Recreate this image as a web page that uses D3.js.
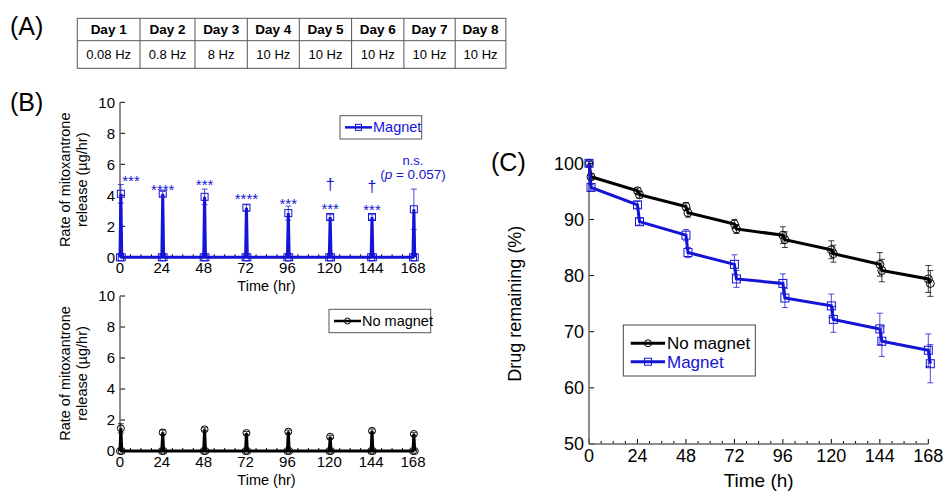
<!DOCTYPE html>
<head>
<meta charset="utf-8">
<style>
body { margin: 0; background: #fff; }
text { font-family: Arial, "Liberation Sans", sans-serif; fill: #000; }
</style>
</head>
<body>
<script src="https://cdn.jsdelivr.net/npm/d3@7"></script>
<script>

// ---- data ----
var dayNames = ["Day 1", "Day 2", "Day 3", "Day 4", "Day 5", "Day 6", "Day 7", "Day 8"];
var dayFreqs = ["0.08 Hz", "0.8 Hz", "8 Hz", "10 Hz", "10 Hz", "10 Hz", "10 Hz", "10 Hz"];

// (B) release rate at each stimulation (µg/hr)
var pulseTimes = [0, 24, 48, 72, 96, 120, 144, 168];
var magnetRate = [4.1, 4.1, 3.9, 3.2, 2.85, 2.6, 2.6, 3.1];
var magnetRateErr = [0.6, 0.15, 0.5, 0.2, 0.45, 0.15, 0.15, 1.3];
var noMagnetRate = [1.46, 1.2, 1.4, 1.16, 1.25, 0.92, 1.3, 1.1];
var noMagnetRateErr = [0.3, 0.15, 0.1, 0.1, 0.1, 0.1, 0.12, 0.1];
var starLabels = ["***", "****", "***", "****", "***", "***", "***", null];
var starLevel = [5.2, 4.65, 4.95, 4.05, 3.7, 3.4, 3.3, null];
var daggerLevel = [null, null, null, null, null, 4.7, 4.55, null];

// (C) drug remaining (%), before / after each stimulation
var remainTimes = [0, 1, 24, 25, 48, 49, 72, 73, 96, 97, 120, 121, 144, 145, 168, 169];
var noMagnetRemain = [100, 97.6, 95.1, 94.4, 92.3, 91.2, 89.2, 88.3, 87.2, 86.4, 84.6, 83.9, 82.0, 80.9, 79.4, 78.6];
var noMagnetRemainErr = [0.3, 0.5, 0.5, 0.6, 0.7, 0.8, 0.8, 0.8, 1.5, 1.4, 1.6, 1.5, 2.1, 2.0, 2.4, 2.3];
var magnetRemain = [100, 95.7, 92.6, 89.6, 87.2, 84.1, 82.0, 79.4, 78.6, 76.0, 74.6, 72.2, 70.5, 68.3, 66.7, 64.3];
var magnetRemainErr = [0.5, 0.5, 0.6, 0.6, 1.0, 0.9, 1.7, 1.5, 1.7, 1.7, 2.1, 2.3, 2.8, 2.7, 2.9, 3.4];

var blue = "#1414d6";
var width = 943, height = 492;

var svg = d3.select("body").append("svg")
    .attr("width", width)
    .attr("height", height);

// panel letters
[["(A)", 10, 26], ["(B)", 10, 102], ["(C)", 491, 162]].forEach(function(p) {
  svg.append("text").attr("x", p[1]).attr("y", p[2]).attr("dy", "0.35em")
      .style("font-size", "25px").text(p[0]);
});

// ---- (A) table ----
var colW = [62.7, 55, 52.3, 52, 52.3, 52.3, 51.3, 50.7];
var tableX = 77.3, tableY = 18.3, rowH = [22.4, 27.6];
var colX = [tableX];
colW.forEach(function(w, i) { colX.push(colX[i] + w); });
var table = svg.append("g");
table.append("rect")
    .attr("x", tableX).attr("y", tableY)
    .attr("width", colX[8] - tableX).attr("height", rowH[0] + rowH[1])
    .attr("fill", "none").attr("stroke", "#555");
table.append("line")
    .attr("x1", tableX).attr("x2", colX[8])
    .attr("y1", tableY + rowH[0]).attr("y2", tableY + rowH[0])
    .attr("stroke", "#555");
colX.slice(1, 8).forEach(function(x) {
  table.append("line").attr("x1", x).attr("x2", x)
      .attr("y1", tableY).attr("y2", tableY + rowH[0] + rowH[1])
      .attr("stroke", "#555");
});
dayNames.forEach(function(d, i) {
  var cx = (colX[i] + colX[i + 1]) / 2;
  table.append("text").attr("x", cx).attr("y", tableY + rowH[0] / 2)
      .attr("dy", "0.35em").attr("text-anchor", "middle")
      .style("font-size", "13.5px").style("font-weight", "bold").text(d);
  table.append("text").attr("x", cx).attr("y", tableY + rowH[0] + rowH[1] / 2)
      .attr("dy", "0.35em").attr("text-anchor", "middle")
      .style("font-size", "13px").text(dayFreqs[i]);
});

// ---- helpers ----
function drawAxes(g, x, y, xTicks, yTicks, fontSize, minorStep) {
  var x0 = x.range()[0], x1 = x.range()[1];
  var y0 = y.range()[0], y1 = y.range()[1];
  // minor x ticks
  var minors = d3.range(x.domain()[0], x.domain()[1] + 0.1, minorStep)
      .filter(function(t) { return xTicks.indexOf(t) < 0; });
  g.selectAll(".minor").data(minors).enter().append("line")
      .attr("x1", x).attr("x2", x)
      .attr("y1", y0).attr("y2", y0 - 3)
      .attr("stroke", "#000");
  g.selectAll(".major").data(xTicks).enter().append("line")
      .attr("x1", x).attr("x2", x)
      .attr("y1", y0).attr("y2", y0 - 5)
      .attr("stroke", "#000");
  g.selectAll(".ymajor").data(yTicks).enter().append("line")
      .attr("x1", x0).attr("x2", x0 + 5)
      .attr("y1", y).attr("y2", y)
      .attr("stroke", "#000");
  g.append("line").attr("x1", x0).attr("x2", x1).attr("y1", y0).attr("y2", y0)
      .attr("stroke", "#666").attr("stroke-width", 1.5);
  g.append("line").attr("x1", x0).attr("x2", x0).attr("y1", y0).attr("y2", y1)
      .attr("stroke", "#666").attr("stroke-width", 1.5);
  g.selectAll(".xl").data(xTicks).enter().append("text")
      .attr("x", x).attr("y", y0 + 4).attr("dy", "0.8em")
      .attr("text-anchor", "middle").style("font-size", fontSize + "px")
      .text(function(d) { return d; });
  g.selectAll(".yl").data(yTicks).enter().append("text")
      .attr("x", x0 - 5).attr("y", y).attr("dy", "0.35em")
      .attr("text-anchor", "end").style("font-size", fontSize + "px")
      .text(function(d) { return d; });
}

function marker(g, kind, cx, cy, size, color) {
  if (kind === "square") {
    g.append("rect").attr("x", cx - size / 2).attr("y", cy - size / 2)
        .attr("width", size).attr("height", size)
        .attr("fill", "none").attr("stroke", color).attr("stroke-width", 1);
  } else {
    g.append("circle").attr("cx", cx).attr("cy", cy).attr("r", size / 2)
        .attr("fill", "none").attr("stroke", color).attr("stroke-width", 1);
  }
}

function errBar(g, px, yTop, yBot, color, cap) {
  g.append("line").attr("x1", px).attr("x2", px).attr("y1", yTop).attr("y2", yBot)
      .attr("stroke", color).attr("stroke-width", 1).attr("opacity", 0.75);
  [yTop, yBot].forEach(function(yy) {
    g.append("line").attr("x1", px - cap).attr("x2", px + cap).attr("y1", yy).attr("y2", yy)
        .attr("stroke", color).attr("stroke-width", 1).attr("opacity", 0.75);
  });
}

// ---- (B) release rate panels ----
function ratePanel(top, bottom, rates, errs, color, kind, legendLabel, legendBox) {
  var x = d3.scaleLinear().domain([0, 168]).range([120, 413]);
  var y = d3.scaleLinear().domain([0, 10]).range([bottom, top]);
  var g = svg.append("g");
  drawAxes(g, x, y, pulseTimes, [0, 2, 4, 6, 8, 10], 15, 6);

  // each stimulation: rate rises from zero and returns to zero within the hour
  var pts = [];
  pulseTimes.forEach(function(t, i) {
    pts.push([t, 0], [t + 0.5, rates[i]], [t + 1, 0]);
  });
  pulseTimes.forEach(function(t, i) {
    errBar(g, x(t + 0.5), y(rates[i] + errs[i]), y(rates[i] - errs[i]), color, 3);
  });
  g.append("path").datum(pts)
      .attr("d", d3.line().x(function(d) { return x(d[0]); }).y(function(d) { return y(d[1]); }))
      .attr("fill", "none").attr("stroke", color).attr("stroke-width", 3);
  pts.forEach(function(p) { marker(g, kind, x(p[0]), y(p[1]), 7, color); });

  // y label
  var cy = (top + bottom) / 2;
  g.append("text").attr("transform", "translate(65," + cy + ") rotate(-90)")
      .attr("text-anchor", "middle").attr("dy", "0.35em")
      .style("font-size", "14.5px").text("Rate of mitoxantrone");
  g.append("text").attr("transform", "translate(82," + cy + ") rotate(-90)")
      .attr("text-anchor", "middle").attr("dy", "0.35em")
      .style("font-size", "14.5px").text("release (µg/hr)");
  g.append("text").attr("x", (x(0) + x(168)) / 2).attr("y", bottom + 29)
      .attr("dy", "0.35em").attr("text-anchor", "middle")
      .style("font-size", "14.5px").text("Time (hr)");

  // legend
  var lx = legendBox[0], ly = legendBox[1], lw = legendBox[2], lh = legendBox[3];
  g.append("rect").attr("x", lx).attr("y", ly).attr("width", lw).attr("height", lh)
      .attr("fill", "#fff").attr("stroke", "#555");
  g.append("line").attr("x1", lx + 5).attr("x2", lx + 32).attr("y1", ly + lh / 2).attr("y2", ly + lh / 2)
      .attr("stroke", color).attr("stroke-width", 2.5);
  marker(g, kind, lx + 18.5, ly + lh / 2, 6, color);
  g.append("text").attr("x", lx + 33).attr("y", ly + lh / 2).attr("dy", "0.35em")
      .style("font-size", "14.5px").style("fill", color).text(legendLabel);
  return {g: g, x: x, y: y};
}

var magPanel = ratePanel(102.3, 257.3, magnetRate, magnetRateErr, blue, "square", "Magnet", [340, 115.7, 81.7, 23.3]);
ratePanel(296, 451, noMagnetRate, noMagnetRateErr, "#000", "circle", "No magnet", [329, 309.3, 101.7, 23.4]);

// significance marks on the magnet panel
pulseTimes.forEach(function(t, i) {
  var px = i === 0 ? magPanel.x(t) + 11 : magPanel.x(t + 0.5);
  if (starLabels[i]) {
    magPanel.g.append("text").attr("x", px).attr("y", magPanel.y(starLevel[i])).attr("dy", "0.62em")
        .attr("text-anchor", "middle").style("font-size", "15px").style("fill", blue)
        .text(starLabels[i]);
  }
  if (daggerLevel[i]) {
    magPanel.g.append("text").attr("x", px).attr("y", magPanel.y(daggerLevel[i])).attr("dy", "0.35em")
        .attr("text-anchor", "middle").style("font-size", "16px").style("fill", blue)
        .text("†");
  }
});
magPanel.g.append("text").attr("x", magPanel.x(168)).attr("y", magPanel.y(6.25)).attr("dy", "0.35em")
    .attr("text-anchor", "middle").style("font-size", "13px").style("fill", blue).text("n.s.");
var pText = magPanel.g.append("text").attr("x", magPanel.x(168)).attr("y", magPanel.y(5.35)).attr("dy", "0.35em")
    .attr("text-anchor", "middle").style("font-size", "13.5px").style("fill", blue);
pText.append("tspan").text("(");
pText.append("tspan").style("font-style", "italic").text("p");
pText.append("tspan").text(" = 0.057)");

// ---- (C) drug remaining ----
var xc = d3.scaleLinear().domain([0, 168]).range([589, 928.3]);
var yc = d3.scaleLinear().domain([50, 100]).range([444, 163.3]);
var gc = svg.append("g");
drawAxes(gc, xc, yc, pulseTimes, [50, 60, 70, 80, 90, 100], 18, 6);

var seriesC = [
  {vals: noMagnetRemain, errs: noMagnetRemainErr, color: "#000", kind: "circle", label: "No magnet"},
  {vals: magnetRemain, errs: magnetRemainErr, color: blue, kind: "square", label: "Magnet"}
];
seriesC.forEach(function(s) {
  remainTimes.forEach(function(t, i) {
    errBar(gc, xc(t), yc(s.vals[i] + s.errs[i]), yc(s.vals[i] - s.errs[i]), s.color, 3);
  });
  gc.append("path").datum(s.vals)
      .attr("d", d3.line().x(function(d, i) { return xc(remainTimes[i]); }).y(function(d) { return yc(d); }))
      .attr("fill", "none").attr("stroke", s.color).attr("stroke-width", 3);
  s.vals.forEach(function(v, i) { marker(gc, s.kind, xc(remainTimes[i]), yc(v), 8, s.color); });
});

gc.append("text").attr("transform", "translate(515," + (yc(75)) + ") rotate(-90)")
    .attr("text-anchor", "middle").attr("dy", "0.35em")
    .style("font-size", "18px").text("Drug remaining (%)");
gc.append("text").attr("x", (xc(0) + xc(168)) / 2).attr("y", 487)
    .attr("text-anchor", "middle").style("font-size", "19px").text("Time (h)");

// legend (C)
var lg = gc.append("g");
lg.append("rect").attr("x", 623.3).attr("y", 325).attr("width", 132).attr("height", 51)
    .attr("fill", "#fff").attr("stroke", "#444");
seriesC.forEach(function(s, i) {
  var ly = 343.3 + i * 18.4;
  lg.append("line").attr("x1", 630.7).attr("x2", 665).attr("y1", ly).attr("y2", ly)
      .attr("stroke", s.color).attr("stroke-width", 3);
  marker(lg, s.kind, 648, ly, 7, s.color);
  lg.append("text").attr("x", 667).attr("y", ly).attr("dy", "0.35em")
      .style("font-size", "17px").style("fill", s.color).text(s.label);
});

</script>
</body>
</html>
